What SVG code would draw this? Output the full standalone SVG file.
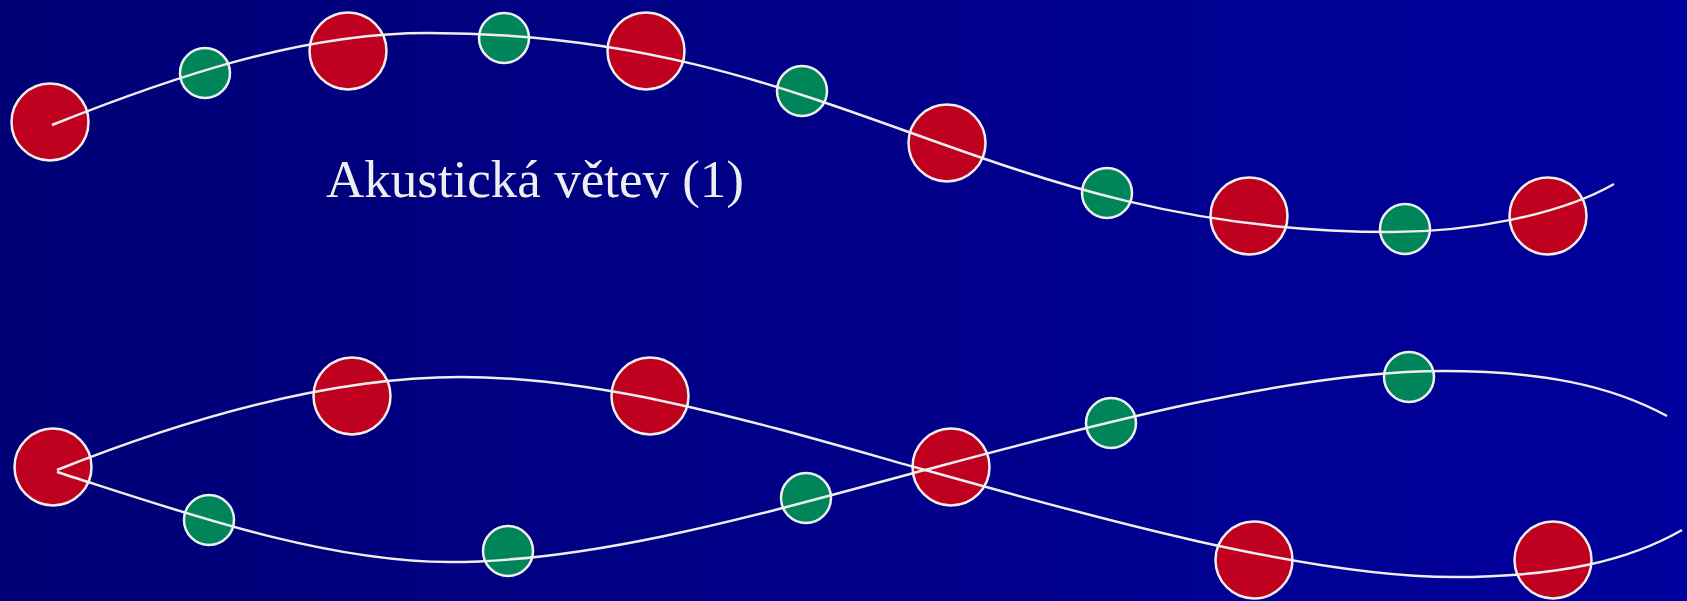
<svg xmlns="http://www.w3.org/2000/svg" width="1687" height="601" viewBox="0 0 1687 601">
  <defs>
    <linearGradient id="bg" x1="0" y1="0" x2="1" y2="0">
      <stop offset="0" stop-color="#000076"/>
      <stop offset="1" stop-color="#00009C"/>
    </linearGradient>
    <style>
      .red { fill: #C0001F; stroke: #EEEEEE; stroke-width: 2.5; }
      .green { fill: #00855A; stroke: #EEEEEE; stroke-width: 2.5; }
      .wave { fill: none; stroke: #EEEEEE; stroke-width: 2.5; }
      .label { font-family: "Liberation Serif", "Times New Roman", serif; font-size: 53px; fill: #EEEEEE; }
    </style>
  </defs>
  <rect x="0" y="0" width="1687" height="601" fill="url(#bg)"/>

  <g id="top-chain">
    <circle id="t-r1" class="red" cx="50" cy="122" r="38.5"/>
    <circle id="t-g1" class="green" cx="205" cy="73" r="25"/>
    <circle id="t-r2" class="red" cx="348" cy="51" r="38.5"/>
    <circle id="t-g2" class="green" cx="504" cy="38" r="25"/>
    <circle id="t-r3" class="red" cx="646" cy="51" r="38.5"/>
    <circle id="t-g3" class="green" cx="802" cy="91" r="25"/>
    <circle id="t-r4" class="red" cx="947" cy="143" r="38.5"/>
    <circle id="t-g4" class="green" cx="1107" cy="193" r="25"/>
    <circle id="t-r5" class="red" cx="1249" cy="216" r="38.5"/>
    <circle id="t-g5" class="green" cx="1405" cy="229" r="25"/>
    <circle id="t-r6" class="red" cx="1548" cy="216" r="38.5"/>
  </g>

  <g id="bottom-chain">
    <circle id="b-r0" class="red" cx="53" cy="467" r="38.5"/>
    <circle id="b-r1" class="red" cx="352" cy="396" r="38.5"/>
    <circle id="b-r2" class="red" cx="650" cy="396" r="38.5"/>
    <circle id="b-r3" class="red" cx="951" cy="467" r="38.5"/>
    <circle id="b-r4" class="red" cx="1254" cy="560" r="38.5"/>
    <circle id="b-r5" class="red" cx="1553" cy="560" r="38.5"/>
    <circle id="b-g1" class="green" cx="209" cy="520" r="25"/>
    <circle id="b-g2" class="green" cx="508" cy="551" r="25"/>
    <circle id="b-g3" class="green" cx="806" cy="498" r="25"/>
    <circle id="b-g4" class="green" cx="1111" cy="423" r="25"/>
    <circle id="b-g5" class="green" cx="1409" cy="377" r="25"/>
  </g>

  <g id="connectors">
    <path class="wave" d="M52,125 C170,78 300,33 428,33 C838,33 982,232 1392,232 C1470,232 1560,215 1614,184"/>
    <path class="wave" d="M57,470 C170,425 320,377 461,377 C611,377 775,428 925,470 C1075,512 1303,577 1453,577 C1560,577 1630,560 1682,530"/>
    <path class="wave" d="M57,472 C170,508 320,562 450,562 C600,562 775,510 925,470 C1075,430 1290,371 1443,371 C1540,371 1610,385 1667,416"/>
  </g>

  <g id="title">
    <text class="label" x="326" y="197">Akustická větev (1)</text>
  </g>
</svg>
